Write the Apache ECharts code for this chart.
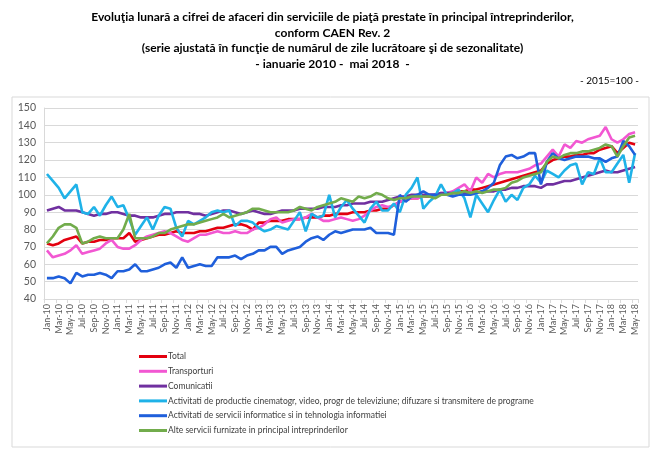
<!DOCTYPE html>
<html lang="ro">
<head>
    <meta charset="UTF-8">
    <title>Cifra de afaceri servicii de piata</title>
    <style>
        html, body { margin: 0; padding: 0; background: #fff; }
    </style>
</head>
<body>
<script src="https://cdn.jsdelivr.net/npm/echarts@6/dist/echarts.min.js"></script>

<div id="main" style="width: 665px;height:449px;"></div>

<script type="text/javascript">
    // luni si ani pentru axa categoriilor (ian 2010 - mai 2018)
    var luni = ['Jan', 'Feb', 'Mar', 'Apr', 'May', 'Jun', 'Jul', 'Aug', 'Sep', 'Oct', 'Nov', 'Dec'];
    var ani = ['10', '11', '12', '13', '14', '15', '16', '17', '18'];
    var yTicks = [40, 50, 60, 70, 80, 90, 100, 110, 120, 130, 140, 150];

    var total = [
        72, 71, 72, 74, 75, 76, 72, 73, 73, 74, 74, 75,
        75, 75, 78, 73, 74, 75, 76, 77, 77, 78, 79, 78,
        78, 78, 79, 79, 80, 81, 81, 82, 83, 83, 82, 80,
        84, 84, 85, 85, 85, 86, 86, 86, 87, 87, 87, 88,
        88, 89, 89, 89, 90, 90, 90, 91, 91, 92, 92, 94,
        96, 97, 98, 98, 99, 99, 100, 100, 101, 101, 102, 102,
        103, 103, 104, 105, 106, 107, 108, 109, 110, 111, 112, 113,
        114, 118, 120, 121, 122, 122, 123, 123, 124, 124, 126, 127,
        128, 124, 127, 130, 129
    ];
    var transporturi = [
        68, 64, 65, 66, 68, 71, 66, 67, 68, 69, 72, 74,
        70, 69, 69, 71, 74, 76, 77, 78, 79, 78, 76, 74,
        73, 75, 77, 77, 78, 79, 78, 78, 79, 78, 78, 80,
        81, 83, 86, 87, 84, 85, 86, 86, 87, 89, 87, 85,
        85, 86, 87, 86, 85, 86, 88, 91, 93, 94, 93, 94,
        96, 97, 98, 98, 99, 100, 100, 101, 101, 102, 104, 106,
        102, 110, 107, 112, 110, 112, 113, 113, 113, 114, 115, 117,
        118, 122, 126, 122, 129, 127, 131, 130, 132, 133, 134, 139,
        132, 130, 132, 135, 136
    ];
    var comunicatii = [
        91, 92, 93, 91, 91, 91, 90, 89, 88, 89, 89, 90,
        90, 89, 88, 88, 87, 87, 87, 88, 89, 89, 90, 90,
        90, 89, 89, 88, 89, 90, 91, 91, 90, 89, 90, 91,
        90, 89, 89, 90, 91, 91, 91, 92, 92, 92, 92, 93,
        93, 93, 94, 94, 95, 95, 95, 96, 96, 96, 97, 98,
        99, 99, 100, 100, 100, 100, 100, 101, 101, 101, 101, 101,
        101, 101, 102, 102, 102, 103, 103, 104, 104, 105, 105, 105,
        104, 106, 106, 107, 108, 108, 109, 110, 111, 112, 113, 114,
        113, 113, 114, 115, 116
    ];
    var cinematografie = [
        112, 108, 104, 98, 102, 106, 90, 89, 93, 88, 94, 99,
        93, 94, 86, 77, 82, 87, 80, 88, 93, 92, 81, 76,
        85, 83, 85, 87, 90, 91, 90, 91, 82, 85, 85, 84,
        81, 79, 80, 82, 81, 80, 85, 90, 79, 89, 87, 88,
        100, 87, 93, 97, 92, 88, 84, 92, 96, 91, 91, 95,
        90, 100, 104, 110, 92, 96, 99, 106, 100, 101, 103, 98,
        87, 100, 95, 90, 97, 103, 96, 100, 97, 104, 106, 111,
        107, 114, 112, 110, 114, 117, 118, 106, 113, 112, 121, 113,
        113, 118, 123, 107, 124
    ];
    var informatica = [
        52, 52, 53, 52, 49, 55, 53, 54, 54, 55, 54, 52,
        56, 56, 57, 60, 56, 56, 57, 58, 60, 61, 58, 64,
        58, 59, 60, 59, 59, 64, 64, 64, 65, 63, 65, 66,
        68, 68, 70, 70, 66, 68, 69, 70, 73, 75, 76, 74,
        77, 79, 78, 79, 80, 80, 80, 81, 78, 78, 78, 77,
        100, 96, 99, 100, 102, 100, 100, 100, 100, 99, 100, 100,
        100, 101, 102, 104, 107, 117, 122, 123, 121, 122, 124, 124,
        106, 119, 124, 121, 120, 121, 122, 122, 122, 121, 121, 119,
        121, 122, 131, 128, 123
    ];
    var alteServicii = [
        72, 76, 81, 83, 83, 81, 72, 73, 75, 76, 75, 75,
        75, 80, 89, 75, 75, 75, 76, 78, 78, 80, 81, 82,
        83, 83, 84, 85, 86, 87, 89, 87, 88, 89, 90, 92,
        92, 91, 90, 90, 90, 90, 91, 93, 92, 91, 93, 94,
        95, 96, 98, 97, 96, 99, 98, 99, 101, 100, 98, 97,
        98, 98, 99, 99, 99, 99, 98, 100, 100, 101, 101, 102,
        101, 102, 101, 102, 103, 103, 104, 107, 108, 110, 111, 112,
        113, 119, 122, 121, 123, 124, 124, 125, 125, 126, 127, 129,
        128, 122, 128, 133, 134
    ];

    var numeSerii = [
        'Total',
        'Transporturi',
        'Comunicatii',
        'Activitati de productie cinematogr, video, progr de televiziune; difuzare si transmitere de programe',
        'Activitati de servicii informatice si in tehnologia informatiei',
        'Alte servicii furnizate in principal intreprinderilor'
    ];
    var culori = ['#e3000f', '#f257d2', '#7030a0', '#1fb2e8', '#1f5fdb', '#72ac4c'];
    var valori = [total, transporturi, comunicatii, cinematografie, informatica, alteServicii];

    var titluri = [
        'Evoluţia lunară a cifrei de afaceri din serviciile de piaţă prestate în principal întreprinderilor,',
        'conform CAEN Rev. 2',
        '(serie ajustată în funcţie de numărul de zile lucrătoare şi de sezonalitate)',
        '- ianuarie 2010 -  mai 2018  -'
    ];

    // categoriile: Jan-10 ... May-18
    var categorii = [];
    for (var a = 0; a < ani.length; a++) {
        for (var l = 0; l < luni.length; l++) {
            if (categorii.length < total.length) {
                categorii.push(luni[l] + '-' + ani[a]);
            }
        }
    }

    var serii = [];
    for (var s = 0; s < valori.length; s++) {
        serii.push({
            name: numeSerii[s],
            type: 'line',
            data: valori[s],
            symbol: 'none',
            lineStyle: { width: 2.6, color: culori[s] },
            itemStyle: { color: culori[s] }
        });
    }

    var titleList = [];
    for (var t = 0; t < titluri.length; t++) {
        titleList.push({
            text: titluri[t],
            left: 'center',
            top: 6 + t * 15.7,
            textStyle: {
                fontFamily: 'Lato',
                fontSize: 12,
                fontWeight: 'bold',
                color: '#000'
            }
        });
    }
    titleList.push({
        text: '- 2015=100 -',
        right: 21,
        top: 71,
        textStyle: { fontFamily: 'Lato', fontSize: 10, fontWeight: 'normal', color: '#000' }
    });

    var myChart = echarts.init(document.getElementById('main'));

    var option = {
        animation: false,
        textStyle: { fontFamily: 'Lato' },
        title: titleList,
        graphic: [
            {
                type: 'rect',
                shape: { x: 12, y: 97, width: 637, height: 350 },
                style: { fill: 'none', stroke: '#d9d9d9', lineWidth: 1 },
                silent: true
            }
        ],
        legend: {
            data: numeSerii,
            orient: 'vertical',
            left: 134,
            top: 346,
            height: 100,
            icon: 'rect',
            itemWidth: 28,
            itemHeight: 3,
            itemGap: 3.8,
            textStyle: { fontFamily: 'Lato', fontSize: 8.5, lineHeight: 11, color: '#404040', padding: [0, 0, 0, -4] }
        },
        grid: {
            left: 44,
            right: 27,
            top: 108,
            bottom: 150
        },
        xAxis: {
            type: 'category',
            data: categorii,
            boundaryGap: true,
            axisLine: { lineStyle: { color: '#d9d9d9' } },
            axisTick: { show: true, interval: 1, length: 4, lineStyle: { color: '#d9d9d9' } },
            axisLabel: {
                interval: 1,
                rotate: 90,
                fontSize: 9,
                color: '#595959',
                margin: 5
            }
        },
        yAxis: {
            type: 'value',
            min: yTicks[0],
            max: yTicks[yTicks.length - 1],
            interval: 10,
            axisLine: { show: true, lineStyle: { color: '#d9d9d9' } },
            axisTick: { show: false },
            axisLabel: { fontSize: 10.5, color: '#595959', margin: 8 },
            splitLine: { lineStyle: { color: '#d9d9d9' } }
        },
        series: serii
    };

    myChart.setOption(option);
</script>
</body>
</html>
